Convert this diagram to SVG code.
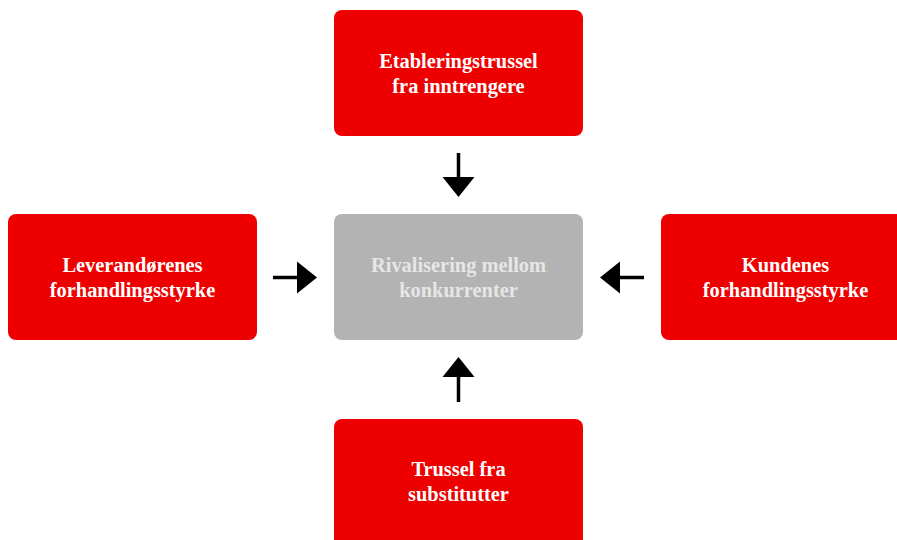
<svg xmlns="http://www.w3.org/2000/svg" width="897" height="540" viewBox="0 0 897 540">
<style>
.box{fill:#EE0000}
.mid{fill:#B3B3B3}
.t{font-family:"Liberation Serif","Times New Roman",serif;font-weight:bold;font-size:20.4px;fill:#FFFFFF;text-anchor:middle}
.tm{fill:#E6E6E6}
.c{stroke:#000;stroke-width:3.5;fill:none}
.h{fill:#000}
</style>
<rect width="897" height="540" fill="#FFFFFF"/>
<g id="top">
<rect class="box" x="334" y="10" width="249" height="126" rx="8"/>
<text class="t" x="458.5" y="68">Etableringstrussel</text>
<text class="t" x="458.5" y="93">fra inntrengere</text>
</g>
<g id="center">
<rect class="mid" x="334" y="214" width="249" height="126" rx="8"/>
<text class="t tm" x="458.5" y="272">Rivalisering mellom</text>
<text class="t tm" x="458.5" y="297">konkurrenter</text>
</g>
<g id="left">
<rect class="box" x="8" y="214" width="249" height="126" rx="8"/>
<text class="t" x="132.5" y="272">Leverandørenes</text>
<text class="t" x="132.5" y="297">forhandlingsstyrke</text>
</g>
<g id="right">
<rect class="box" x="661" y="214" width="249" height="126" rx="8"/>
<text class="t" x="785.5" y="272">Kundenes</text>
<text class="t" x="785.5" y="297">forhandlingsstyrke</text>
</g>
<g id="bottom">
<rect class="box" x="334" y="419" width="249" height="140" rx="8"/>
<text class="t" x="458.5" y="476">Trussel fra</text>
<text class="t" x="458.5" y="501">substitutter</text>
</g>
<g id="connectors">
<line class="c" x1="458.5" y1="153" x2="458.5" y2="180"/>
<polygon class="h" points="442.5,177 474.5,177 458.5,197"/>
<line class="c" x1="273" y1="277.5" x2="300" y2="277.5"/>
<polygon class="h" points="297,261.5 297,293.5 317,277.5"/>
<line class="c" x1="644" y1="277.5" x2="617" y2="277.5"/>
<polygon class="h" points="620,261.5 620,293.5 600,277.5"/>
<line class="c" x1="458.5" y1="402" x2="458.5" y2="374"/>
<polygon class="h" points="442.5,377 474.5,377 458.5,357"/>
</g>
</svg>
